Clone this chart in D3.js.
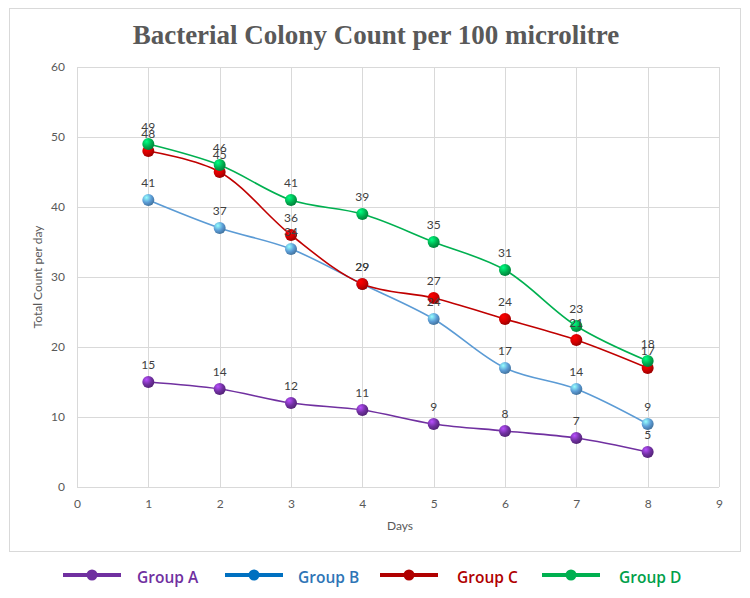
<!DOCTYPE html>
<html>
<head>
<meta charset="utf-8">
<script src="https://cdn.jsdelivr.net/npm/d3@7"></script>
<style>
  body { margin: 0; background: #fff; }
</style>
</head>
<body>
<div id="chart"></div>
<script>
// Data
const days = [1, 2, 3, 4, 5, 6, 7, 8];
const groupA = [15, 14, 12, 11, 9, 8, 7, 5];
const groupB = [41, 37, 34, 29, 24, 17, 14, 9];
const groupC = [48, 45, 36, 29, 27, 24, 21, 17];
const groupD = [49, 46, 41, 39, 35, 31, 23, 18];
const seriesNames = ["Group A", "Group B", "Group C", "Group D"];
const xTicks = [0, 1, 2, 3, 4, 5, 6, 7, 8, 9];
const yTicks = [0, 10, 20, 30, 40, 50, 60];

const series = [
    { name: "Group A", values: groupA, line: "#7030a0", marker: "#7030a0", legend: "#7030a0", text: "#7030a0" },
    { name: "Group B", values: groupB, line: "#5b9bd5", marker: "#5b9bd5", legend: "#0070c0", text: "#2e75b6" },
    { name: "Group C", values: groupC, line: "#c00000", marker: "#d00000", legend: "#b00000", text: "#b00000" },
    { name: "Group D", values: groupD, line: "#00b050", marker: "#00b050", legend: "#00b050", text: "#00a04a" }
];

const width = 750, height = 598;
const margin = { top: 67, right: 31, bottom: 111, left: 77 };
const innerWidth = width - margin.left - margin.right;
const innerHeight = height - margin.top - margin.bottom;

const svg = d3.select("#chart").append("svg")
    .attr("width", width)
    .attr("height", height);

// Gradients for the glossy markers
const defs = svg.append("defs");
series.forEach(function (s, i) {
    const g = defs.append("radialGradient")
        .attr("id", "grad" + i)
        .attr("cx", "35%").attr("cy", "30%").attr("r", "70%");
    g.append("stop").attr("offset", "0%").attr("stop-color", d3.color(s.marker).brighter(1.4));
    g.append("stop").attr("offset", "60%").attr("stop-color", s.marker);
    g.append("stop").attr("offset", "100%").attr("stop-color", d3.color(s.marker).darker(0.8));
});

// Chart frame
svg.append("rect")
    .attr("x", 9.5).attr("y", 8.5)
    .attr("width", 731).attr("height", 543)
    .attr("fill", "#fff")
    .attr("stroke", "#d9d9d9");

// Title
svg.append("text")
    .attr("x", 376).attr("y", 44)
    .attr("text-anchor", "middle")
    .style("font-family", "'Liberation Serif', serif")
    .style("font-weight", "bold")
    .style("font-size", "27px")
    .style("fill", "#595959")
    .text("Bacterial Colony Count per 100 microlitre");

const plot = svg.append("g")
    .attr("transform", "translate(" + margin.left + "," + margin.top + ")");

const x = d3.scaleLinear().domain([0, 9]).range([0, innerWidth]);
const y = d3.scaleLinear().domain([0, 60]).range([innerHeight, 0]);

// Gridlines
plot.append("g")
    .selectAll("line.h")
    .data(yTicks)
    .enter().append("line")
    .attr("x1", 0).attr("x2", innerWidth)
    .attr("y1", function (d) { return Math.round(y(d)) + 0.5; })
    .attr("y2", function (d) { return Math.round(y(d)) + 0.5; })
    .attr("stroke", "#d9d9d9");

plot.append("g")
    .selectAll("line.v")
    .data(xTicks)
    .enter().append("line")
    .attr("y1", 0).attr("y2", innerHeight)
    .attr("x1", function (d) { return Math.round(x(d)) + 0.5; })
    .attr("x2", function (d) { return Math.round(x(d)) + 0.5; })
    .attr("stroke", "#d9d9d9");

// Axes (labels only)
const xAxis = d3.axisBottom(x).tickValues(xTicks).tickSize(0).tickPadding(12);
plot.append("g")
    .attr("transform", "translate(0," + innerHeight + ")")
    .call(xAxis)
    .call(function (g) { g.select(".domain").remove(); })
    .selectAll("text")
    .style("font-family", "Lato, sans-serif")
    .style("font-size", "12px")
    .style("fill", "#595959");

const yAxis = d3.axisLeft(y).tickValues(yTicks).tickSize(0).tickPadding(12);
plot.append("g")
    .call(yAxis)
    .call(function (g) { g.select(".domain").remove(); })
    .selectAll("text")
    .style("font-family", "Lato, sans-serif")
    .style("font-size", "12px")
    .style("fill", "#595959");

// Axis titles
svg.append("text")
    .attr("x", 400).attr("y", 530)
    .attr("text-anchor", "middle")
    .style("font-family", "Lato, sans-serif")
    .style("font-size", "12px")
    .style("fill", "#595959")
    .text("Days");

svg.append("text")
    .attr("transform", "translate(42," + (margin.top + innerHeight / 2) + ") rotate(-90)")
    .attr("text-anchor", "middle")
    .style("font-family", "Lato, sans-serif")
    .style("font-size", "12px")
    .style("fill", "#595959")
    .text("Total Count per day");

// Smoothed lines
const line = d3.line()
    .x(function (d, i) { return x(days[i]); })
    .y(function (d) { return y(d); })
    .curve(d3.curveCatmullRom.alpha(0.5));

series.forEach(function (s) {
    plot.append("path")
        .datum(s.values)
        .attr("fill", "none")
        .attr("stroke", s.line)
        .attr("stroke-width", 1.6)
        .attr("d", line);
});

// Markers
series.forEach(function (s, i) {
    plot.append("g")
        .selectAll("circle")
        .data(s.values)
        .enter().append("circle")
        .attr("cx", function (d, j) { return x(days[j]); })
        .attr("cy", function (d) { return y(d); })
        .attr("r", 6)
        .attr("fill", "url(#grad" + i + ")");
});

// Data labels
series.forEach(function (s) {
    plot.append("g")
        .selectAll("text")
        .data(s.values)
        .enter().append("text")
        .attr("x", function (d, j) { return x(days[j]); })
        .attr("y", function (d) { return y(d) - 13; })
        .attr("text-anchor", "middle")
        .style("font-family", "Lato, sans-serif")
        .style("font-size", "12px")
        .style("fill", "#404040")
        .text(function (d) { return d; });
});

// Legend
const legendLineX = [63, 225, 380, 542];
const legendTextX = [137, 298, 457, 619];
const legend = svg.append("g");
series.forEach(function (s, i) {
    const lg = legend.append("g");
    lg.append("line")
        .attr("x1", legendLineX[i]).attr("x2", legendLineX[i] + 58)
        .attr("y1", 575).attr("y2", 575)
        .attr("stroke", s.legend)
        .attr("stroke-width", 4);
    lg.append("circle")
        .attr("cx", legendLineX[i] + 29).attr("cy", 575).attr("r", 5.5)
        .attr("fill", s.legend);
    lg.append("text")
        .attr("x", legendTextX[i]).attr("y", 583)
        .style("font-family", "'Open Sans', sans-serif")
        .style("font-weight", "600")
        .style("font-size", "15.5px")
        .style("fill", s.text)
        .text(seriesNames[i]);
});
</script>
</body>
</html>
